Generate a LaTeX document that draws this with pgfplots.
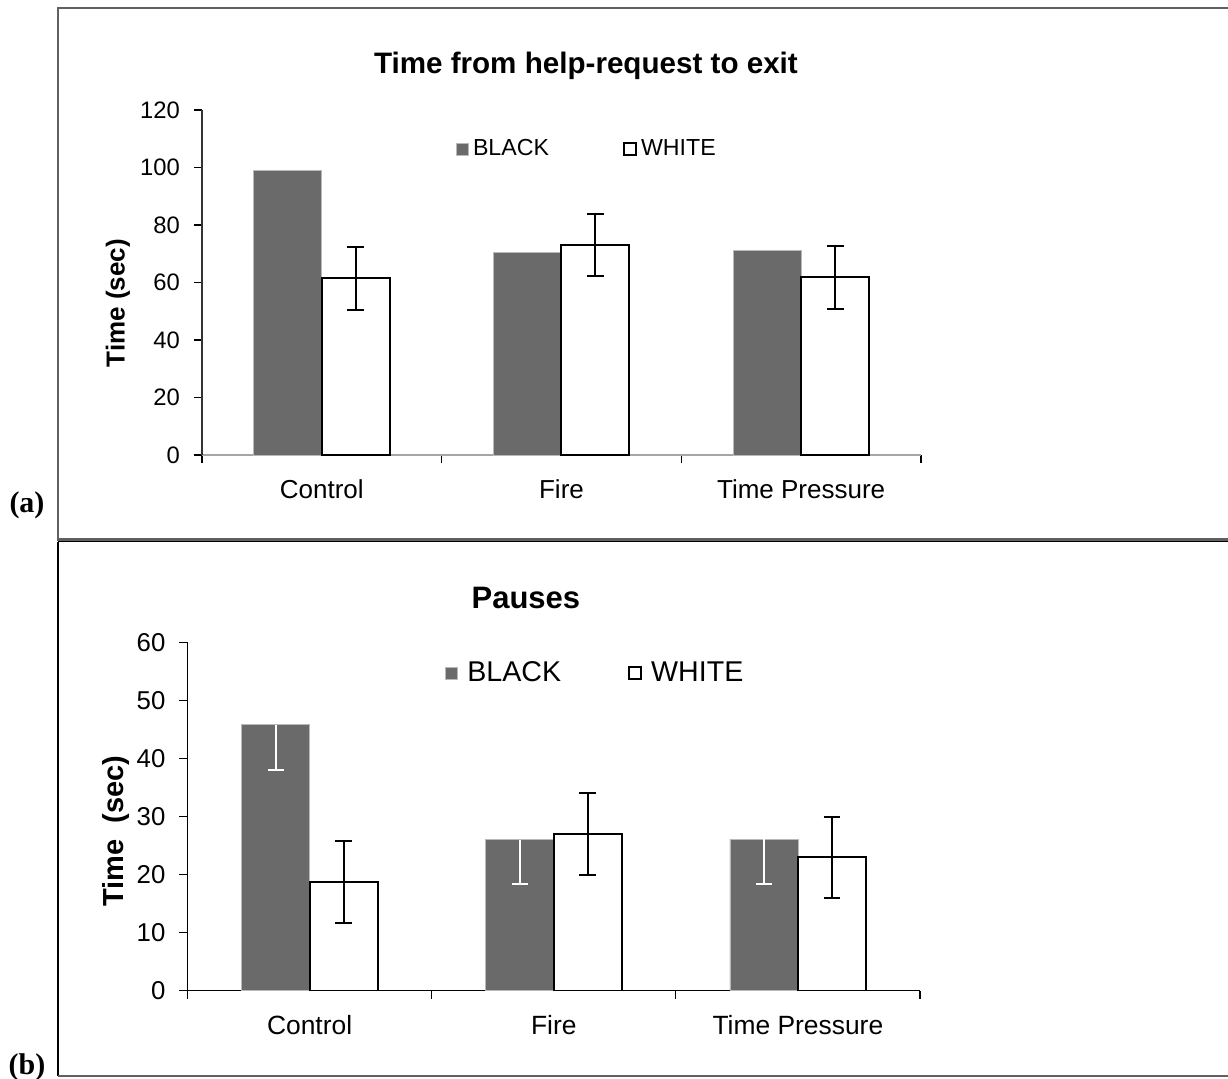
\documentclass[border=0pt]{standalone}
\usepackage{pgfplots}
\pgfplotsset{compat=1.18}
\usepackage{fontspec}
\setmainfont{Liberation Sans}
\newfontfamily\timesfont{Liberation Serif}
\definecolor{barfill}{RGB}{106,106,106}
\begin{document}
\begin{tikzpicture}[x=1pt,y=1pt]
\useasboundingbox (0pt,0pt) rectangle (614pt,-539pt);
% frames
\draw[line width=1.1pt, gray!75!black] (29pt,-4pt) rectangle (617pt,-269.7pt);
\draw[line width=0.6pt, black] (29pt,-270.8pt) -- (617pt,-270.8pt);
\draw[line width=0.6pt, black] (29pt,-270.8pt) -- (29pt,-538pt);
\draw[line width=1.1pt, gray!75!black] (29pt,-538pt) -- (617pt,-538pt);
\node[font=\timesfont\bfseries\fontsize{15}{18}\selectfont] at (13.5pt,-252.5pt) {(a)};
\node[font=\timesfont\bfseries\fontsize{15}{18}\selectfont] at (13.5pt,-533.5pt) {(b)};

\begin{axis}[
  at={(101pt,-227.5pt)}, anchor=south west, scale only axis,
  width=359.5pt, height=172.5pt,
  xmin=-0.5, xmax=2.5, ymin=0, ymax=120,
  ytick={0,20,...,120},
  xtick={-0.5,0.5,1.5,2.5}, xticklabels={},
  extra x ticks={0,1,2},
  extra x tick labels={Control,Fire,Time Pressure},
  extra x tick style={major tick length=0pt, xticklabel style={yshift=-9pt}},
  axis lines*=left,
  tick align=outside, major tick length=4pt,
  x axis line style={gray!70, line width=0.8pt},
  y axis line style={black!80, line width=0.6pt},
  tick style={black, line width=0.6pt},
  /pgf/number format/assume math mode=true,
  yticklabel style={font=\fontsize{11.9}{14}\selectfont, xshift=-3.5pt},
  xticklabel style={font=\fontsize{13}{15}\selectfont},
  ylabel={Time (sec)},
  ylabel style={at={(axis description cs:-0.117,0.44)}, anchor=center, font=\bfseries\fontsize{13}{15}\selectfont},
  title={Time from help-request to exit},
  title style={at={(axis description cs:0.534,1.093)}, anchor=center, font=\bfseries\fontsize{14.8}{17}\selectfont},
  ybar, bar width=34pt,
  legend style={at={(axis description cs:0.353,0.887)}, anchor=west, draw=none, fill=none,
    font=\fontsize{11.6}{14}\selectfont, inner sep=0pt,
    /tikz/every even column/.append style={column sep=35pt}},
  legend columns=2,
  legend image code/.code={\draw[#1] (0pt,-3pt) rectangle (6pt,3pt);},
]
\addplot[ybar, bar shift=-17pt, fill=barfill, draw=gray!55, line width=0.4pt]
  coordinates {(0,99.1) (1,70.5) (2,71.3)};
\addplot[ybar, bar shift=17pt, fill=white, draw=black, line width=1pt,
  error bars/.cd, y dir=both, y explicit,
  error bar style={black, line width=1pt},
  error mark options={rotate=90, mark size=4.2pt, line width=1pt, black}]
  coordinates {(0,61.4) +- (0,10.9) (1,73.2) +- (0,10.8) (2,61.8) +- (0,10.9)};
\legend{BLACK,WHITE}
\end{axis}

\begin{axis}[
  at={(93.75pt,-495.35pt)}, anchor=south west, scale only axis,
  width=366.25pt, height=174.2pt,
  xmin=-0.5, xmax=2.5, ymin=0, ymax=60,
  ytick={0,10,...,60},
  xtick={-0.5,0.5,1.5,2.5}, xticklabels={},
  extra x ticks={0,1,2},
  extra x tick labels={Control,Fire,Time Pressure},
  extra x tick style={major tick length=0pt, xticklabel style={yshift=-9pt}},
  axis lines*=left,
  tick align=outside, major tick length=4pt,
  x axis line style={black, line width=0.6pt},
  y axis line style={black, line width=0.6pt},
  tick style={black, line width=0.6pt},
  /pgf/number format/assume math mode=true,
  yticklabel style={font=\fontsize{12.9}{15}\selectfont, xshift=-3.5pt},
  xticklabel style={font=\fontsize{13.2}{15}\selectfont},
  ylabel={Time\ \ (sec)},
  ylabel style={at={(axis description cs:-0.097,0.458)}, anchor=center, font=\bfseries\fontsize{14.5}{17}\selectfont},
  title={Pauses},
  title style={at={(axis description cs:0.462,1.093)}, anchor=center, font=\bfseries\fontsize{15.5}{18}\selectfont},
  ybar, bar width=34pt,
  legend style={at={(axis description cs:0.351,0.912)}, anchor=west, draw=none, fill=none,
    font=\fontsize{14.3}{17}\selectfont, inner sep=0pt,
    /tikz/every even column/.append style={column sep=31.5pt}},
  legend columns=2,
  legend image code/.code={\draw[#1] (0pt,-3pt) rectangle (6pt,3pt); \path[draw=none, fill=none] (0pt,0pt) -- (9pt,0pt);},
]
\addplot[ybar, bar shift=-17pt, fill=barfill, draw=gray!55, line width=0.4pt,
  error bars/.cd, y dir=minus, y explicit,
  error bar style={white, line width=1pt},
  error mark options={rotate=90, mark size=4pt, line width=1pt, white}]
  coordinates {(0,45.8) +- (0,7.8) (1,26.0) +- (0,7.6) (2,26.1) +- (0,7.7)};
\addplot[ybar, bar shift=17pt, fill=white, draw=black, line width=1pt,
  error bars/.cd, y dir=both, y explicit,
  error bar style={black, line width=1pt},
  error mark options={rotate=90, mark size=4.2pt, line width=1pt, black}]
  coordinates {(0,18.7) +- (0,7.1) (1,27.0) +- (0,7.0) (2,23.0) +- (0,7.0)};
\legend{BLACK,WHITE}
\end{axis}
\end{tikzpicture}
\end{document}
